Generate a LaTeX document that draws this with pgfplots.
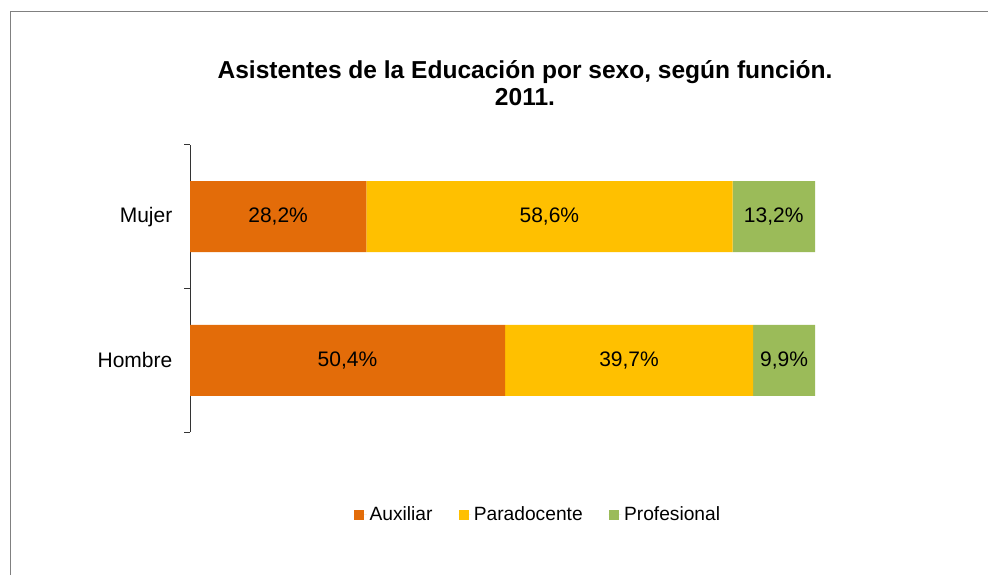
\documentclass[border=0pt]{standalone}
\usepackage{fontspec}
\setmainfont{Liberation Sans}
\usepackage{pgfplots}
\usepackage{pgfplotstable}
\pgfplotsset{compat=1.18}
\definecolor{cAux}{HTML}{E36C09}
\definecolor{cPar}{HTML}{FFC000}
\definecolor{cPro}{HTML}{9BBB59}
\pgfplotstableread{
pos aux par pro
0 50.4 39.7 9.9
1 28.2 58.6 13.2
}\datatable
\begin{document}
\begin{tikzpicture}[x=1pt,y=1pt]
\useasboundingbox (0,0) rectangle (741,431.25);
\draw[line width=0.75pt, color=black!50] (7.5,0) -- (7.5,422.25) -- (741,422.25);
\node[align=center, font=\fontsize{18.4}{20.25}\selectfont\bfseries] at (393.75,368.6) {Asistentes de la Educación por sexo, según función.\\2011.};
\begin{axis}[
  at={(142.5pt,107.25pt)}, anchor=south west,
  scale only axis, width=468.75pt, height=215.25pt,
  xbar stacked, bar width=53.25pt,
  xmin=0, xmax=100, ymin=-0.5, ymax=1.5,
  axis x line=none,
  axis y line*=left,
  y axis line style={black!80, line width=0.75pt, -},
  ytick={0,1}, yticklabels={Hombre,Mujer},
  major tick length=0pt,
  extra y ticks={-0.5,0.5,1.5}, extra y tick labels={},
  extra y tick style={tick align=outside, major tick length=4.5pt, tick style={black!80, line width=0.75pt}},
  yticklabel style={font=\fontsize{15.75}{18}\selectfont, xshift=-9.75pt},
  visualization depends on=rawx \as \rawx,
  nodes near coords={\pgfmathprintnumber[fixed,fixed zerofill,precision=1,use comma,assume math mode=true]{\rawx}\%},
  every node near coord/.append style={anchor=center, font=\fontsize{15.75}{18}\selectfont, text=black},
  legend columns=-1,
  legend style={at={(0.5576,-0.289)}, anchor=center, draw=none, font=\fontsize{14.4}{16}\selectfont, /tikz/every even column/.append style={column sep=17.5pt}},
  legend image code/.code={\fill[#1] (0pt,-3.75pt) rectangle (7.5pt,3.75pt); \path (0pt,0pt) -- (9.5pt,0pt);},
]
\addplot[fill=cAux, draw=none] table[x=aux, y=pos] {\datatable};
\addplot[fill=cPar, draw=none] table[x=par, y=pos] {\datatable};
\addplot[fill=cPro, draw=none] table[x=pro, y=pos] {\datatable};
\legend{Auxiliar, Paradocente, Profesional}
\end{axis}
\end{tikzpicture}
\end{document}
